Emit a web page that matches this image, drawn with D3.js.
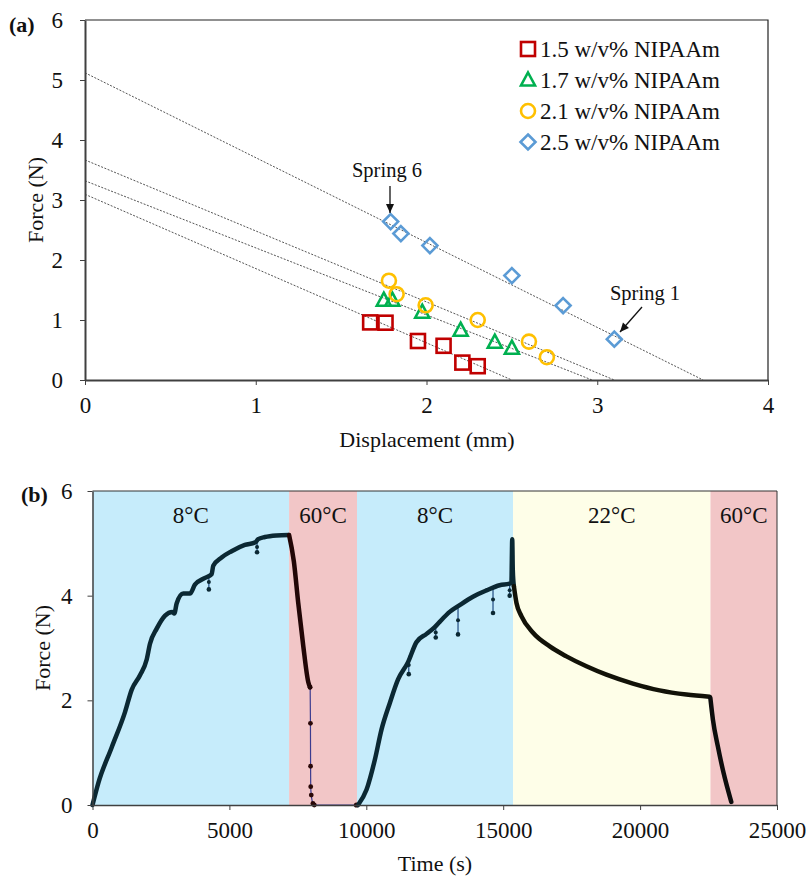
<!DOCTYPE html>
<html>
  <head>
    <style>
      body {
        margin: 0;
        background: #fff;
        font-family: "Liberation Serif", "Times New Roman", serif;
      }
      text { fill: #111; }
      .axis text { font-size: 23px; font-family: "Liberation Serif", serif; }
      .axis path, .axis line { stroke: #404040; }
      .trend { fill: none; stroke: #555; stroke-width: 1; stroke-dasharray: 2,1.5; }
    </style>
  </head>
  <body>
    <script src="https://d3js.org/d3.v7.min.js"></script>
    <script>
      // ---------- panel (a) data ----------
      var seriesA = ["1.5 w/v% NIPAAm", "1.7 w/v% NIPAAm", "2.1 w/v% NIPAAm", "2.5 w/v% NIPAAm"];
      var colorsA = ["#c00000", "#00b050", "#ffc000", "#5b9bd5"];
      var shapesA = ["square", "triangle", "circle", "diamond"];
      var pts15 = [[1.67, 0.96], [1.76, 0.955], [1.95, 0.65], [2.10, 0.57], [2.21, 0.29], [2.30, 0.23]];
      var pts17 = [[1.75, 1.33], [1.80, 1.33], [1.975, 1.13], [2.20, 0.83], [2.40, 0.63], [2.50, 0.53]];
      var pts21 = [[1.78, 1.655], [1.825, 1.43], [1.995, 1.245], [2.30, 1.00], [2.60, 0.64], [2.705, 0.38]];
      var pts25 = [[1.79, 2.64], [1.85, 2.44], [2.02, 2.24], [2.50, 1.74], [2.80, 1.24], [3.10, 0.68]];
      // trend lines: [x, y] at start and end
      var trend15 = [[0, 3.095], [2.50, 0]];
      var trend17 = [[0, 3.32], [2.97, 0]];
      var trend21 = [[0, 3.667], [3.10, 0]];
      var trend25 = [[0, 5.12], [3.62, 0]];
      var xTicksA = [0, 1, 2, 3, 4];
      var yTicksA = [0, 1, 2, 3, 4, 5, 6];

      // ---------- panel (b) data ----------
      var bands = [[0, 7180, "8°C"], [7180, 9660, "60°C"], [9660, 15360, "8°C"], [15360, 22570, "22°C"], [22570, 25000, "60°C"]];
      var bandColors = ["#c6ecfb", "#f2c6c7", "#c6ecfb", "#fefee8", "#f2c6c7"];
      var cool1 = [[0, 0], [212, 0.42], [700, 1.10], [1190, 1.78], [1430, 2.20], [1735, 2.48], [1980, 2.78], [2100, 3.08],
                   [2345, 3.37], [2650, 3.62], [2915, 3.69], [2990, 3.66], [3073, 3.85], [3315, 4.04], [3560, 4.04],
                   [3740, 4.21], [4110, 4.34], [4350, 4.41], [4410, 4.57], [4715, 4.73], [5080, 4.85], [5565, 4.97],
                   [5950, 5.02], [6050, 5.08], [6300, 5.12], [6720, 5.15], [7170, 5.16]];
      var heat1 = [[7180, 5.16], [7355, 4.65], [7510, 3.88], [7695, 3.05], [7880, 2.35], [7940, 2.25]];
      var drop1 = [[7950, 2.25], [7960, 1.56], [7965, 0.74], [7970, 0.35], [7990, 0.19], [8050, 0.03], [8100, 0], [9640, 0]];
      var cool2 = [[9700, 0], [10007, 0.29], [10310, 0.86], [10555, 1.44], [10860, 1.95], [11160, 2.40], [11525, 2.73],
                   [11830, 3.11], [12200, 3.27], [12500, 3.40], [12680, 3.50], [13045, 3.69], [13410, 3.82],
                   [13895, 3.98], [14385, 4.10], [14870, 4.20], [15235, 4.23], [15300, 4.25], [15330, 5.08],
                   [15350, 4.5], [15390, 4.18]];
      var room = [[15390, 4.18], [15485, 3.86], [15665, 3.61], [16090, 3.29], [16700, 3.03], [17310, 2.84], [18040, 2.65],
                  [18770, 2.49], [19740, 2.32], [20710, 2.19], [21690, 2.11], [22540, 2.07]];
      var heat2 = [[22565, 2.05], [22660, 1.63], [22840, 1.12], [23050, 0.61], [23330, 0.06]];
      // short dips in the readings: [time, top, bottom]
      var dips = [[4250, 4.40, 4.12], [6010, 5.03, 4.83], [11551, 2.85, 2.50], [12536, 3.39, 3.20],
                  [13350, 3.80, 3.26], [14628, 4.18, 3.67], [15237, 4.21, 4.00]];
      var xTicksB = [0, 5000, 10000, 15000, 20000, 25000];
      var yTicksB = [0, 2, 4, 6];

      var svg = d3.select("body").append("svg")
        .attr("width", 807)
        .attr("height", 876);

      // ================= panel (a) =================
      var xA = d3.scaleLinear().domain([0, 4]).range([85, 768]);
      var yA = d3.scaleLinear().domain([0, 6]).range([380, 20]);

      var ga = svg.append("g");
      // top/right frame
      ga.append("path")
        .attr("d", "M" + xA(0) + "," + yA(6) + "H" + xA(4) + "V" + yA(0))
        .attr("fill", "none").attr("stroke", "#222").attr("stroke-width", 1.2);

      var line = d3.line().x(d => xA(d[0])).y(d => yA(d[1]));
      [trend15, trend17, trend21, trend25].forEach(function(t) {
        ga.append("path").attr("class", "trend").datum(t).attr("d", line);
      });

      function marker(g, shape, color, x, y) {
        var s;
        if (shape == "square") {
          s = g.append("rect").attr("x", x - 7).attr("y", y - 7).attr("width", 14).attr("height", 14);
        } else if (shape == "triangle") {
          s = g.append("path").attr("d", "M" + x + "," + (y - 7.5) + "L" + (x + 7) + "," + (y + 5.5) + "L" + (x - 7) + "," + (y + 5.5) + "Z");
        } else if (shape == "circle") {
          s = g.append("circle").attr("cx", x).attr("cy", y).attr("r", 7);
        } else {
          s = g.append("path").attr("d", "M" + x + "," + (y - 7.5) + "L" + (x + 7.5) + "," + y + "L" + x + "," + (y + 7.5) + "L" + (x - 7.5) + "," + y + "Z");
        }
        s.attr("fill", "none").attr("stroke", color).attr("stroke-width", 2.6);
      }

      [pts15, pts17, pts21, pts25].forEach(function(pts, i) {
        pts.forEach(function(p) { marker(ga, shapesA[i], colorsA[i], xA(p[0]), yA(p[1])); });
      });

      ga.append("g").attr("class", "axis")
        .attr("transform", "translate(0," + yA(0) + ")")
        .call(d3.axisBottom(xA).tickValues(xTicksA).tickFormat(d3.format("d")).tickSize(5).tickSizeOuter(0).tickPadding(12))
        .call(g => g.select(".domain").attr("stroke-width", 2));
      ga.append("g").attr("class", "axis")
        .attr("transform", "translate(" + xA(0) + ",0)")
        .call(d3.axisLeft(yA).tickValues(yTicksA).tickFormat(d3.format("d")).tickSize(5).tickSizeOuter(0).tickPadding(17))
        .call(g => g.select(".domain").attr("stroke-width", 2));

      ga.append("text").attr("x", 427).attr("y", 447).attr("text-anchor", "middle")
        .style("font-size", "22px").text("Displacement (mm)");
      ga.append("text").attr("transform", "translate(43,200) rotate(-90)").attr("text-anchor", "middle")
        .style("font-size", "22px").text("Force (N)");
      ga.append("text").attr("x", 9).attr("y", 32).style("font-size", "22px").style("font-weight", "bold").text("(a)");

      // legend
      seriesA.forEach(function(name, i) {
        var ly = 49 + i * 31;
        marker(ga, shapesA[i], colorsA[i], 528, ly);
        ga.append("text").attr("x", 540).attr("y", ly + 8).style("font-size", "23px").text(name);
      });

      // annotations
      function arrow(g, x1, y1, x2, y2) {
        g.append("line").attr("x1", x1).attr("y1", y1).attr("x2", x2).attr("y2", y2)
          .attr("stroke", "#111").attr("stroke-width", 1.3);
        var a = Math.atan2(y2 - y1, x2 - x1), L = 9, w = 4;
        var bx = x2 - L * Math.cos(a), by = y2 - L * Math.sin(a);
        g.append("path").attr("fill", "#111")
          .attr("d", "M" + x2 + "," + y2 + "L" + (bx - w * Math.sin(a)) + "," + (by + w * Math.cos(a)) +
                     "L" + (bx + w * Math.sin(a)) + "," + (by - w * Math.cos(a)) + "Z");
      }
      ga.append("text").attr("x", 387).attr("y", 177).attr("text-anchor", "middle").style("font-size", "20.5px").text("Spring 6");
      arrow(ga, 390, 186, 390, 213);
      ga.append("text").attr("x", 645).attr("y", 300).attr("text-anchor", "middle").style("font-size", "20.5px").text("Spring 1");
      arrow(ga, 642, 307, 620, 332);

      // ================= panel (b) =================
      var xB = d3.scaleLinear().domain([0, 25000]).range([92.5, 777]);
      var yB = d3.scaleLinear().domain([0, 6]).range([805, 491]);
      var gb = svg.append("g");

      gb.selectAll(".band").data(bands).enter().append("rect")
        .attr("x", d => xB(d[0])).attr("width", d => xB(d[1]) - xB(d[0]))
        .attr("y", yB(6)).attr("height", yB(0) - yB(6))
        .attr("fill", (d, i) => bandColors[i]);
      gb.selectAll(".blabel").data(bands).enter().append("text")
        .attr("x", d => xB((d[0] + d[1]) / 2)).attr("y", 523)
        .attr("text-anchor", "middle").style("font-size", "23px").text(d => d[2]);

      gb.append("path")
        .attr("d", "M" + xB(0) + "," + yB(6) + "H" + xB(25000) + "V" + yB(0))
        .attr("fill", "none").attr("stroke", "#333").attr("stroke-width", 1);

      var lineB = d3.line().x(d => xB(d[0])).y(d => yB(d[1])).curve(d3.curveMonotoneX);

      // dips: thin line with dots
      dips.forEach(function(d) {
        gb.append("line").attr("x1", xB(d[0])).attr("x2", xB(d[0])).attr("y1", yB(d[1])).attr("y2", yB(d[2]))
          .attr("stroke", "#1f4a80").attr("stroke-width", 1.2);
        gb.append("circle").attr("cx", xB(d[0])).attr("cy", yB(d[2])).attr("r", 2.3).attr("fill", "#0b2833");
        gb.append("circle").attr("cx", xB(d[0])).attr("cy", yB((d[1] + d[2]) / 2)).attr("r", 2).attr("fill", "#0b2833");
      });

      gb.append("path").datum(drop1).attr("d", lineB)
        .attr("fill", "none").attr("stroke", "#3b3b8f").attr("stroke-width", 1.2);
      gb.selectAll(".dropdot").data(drop1.slice(0, 7)).enter().append("circle")
        .attr("cx", d => xB(d[0])).attr("cy", d => yB(d[1])).attr("r", 2.4).attr("fill", "#2a0808");
      gb.append("circle").attr("cx", xB(9640)).attr("cy", yB(0)).attr("r", 2.6).attr("fill", "#2a0808");

      var curves = [[cool1, "#0b2833"], [heat1, "#220606"], [cool2, "#0b2833"], [room, "#121208"], [heat2, "#0d0d0d"]];
      curves.forEach(function(c) {
        gb.append("path").datum(c[0]).attr("d", lineB)
          .attr("fill", "none").attr("stroke", c[1]).attr("stroke-width", 4.5)
          .attr("stroke-linejoin", "round").attr("stroke-linecap", "round");
      });

      gb.append("g").attr("class", "axis")
        .attr("transform", "translate(0," + yB(0) + ")")
        .call(d3.axisBottom(xB).tickValues(xTicksB).tickFormat(d3.format("d")).tickSize(5).tickSizeOuter(0).tickPadding(12))
        .call(g => g.select(".domain").attr("stroke-width", 1.5));
      gb.append("g").attr("class", "axis")
        .attr("transform", "translate(" + xB(0) + ",0)")
        .call(d3.axisLeft(yB).tickValues(yTicksB).tickFormat(d3.format("d")).tickSize(5).tickSizeOuter(0).tickPadding(15))
        .call(g => g.select(".domain").attr("stroke-width", 1.5));

      gb.append("text").attr("x", 435).attr("y", 871).attr("text-anchor", "middle")
        .style("font-size", "22px").text("Time (s)");
      gb.append("text").attr("transform", "translate(50,648) rotate(-90)").attr("text-anchor", "middle")
        .style("font-size", "22px").text("Force (N)");
      gb.append("text").attr("x", 21).attr("y", 502).style("font-size", "22px").style("font-weight", "bold").text("(b)");
    </script>
  </body>
</html>
